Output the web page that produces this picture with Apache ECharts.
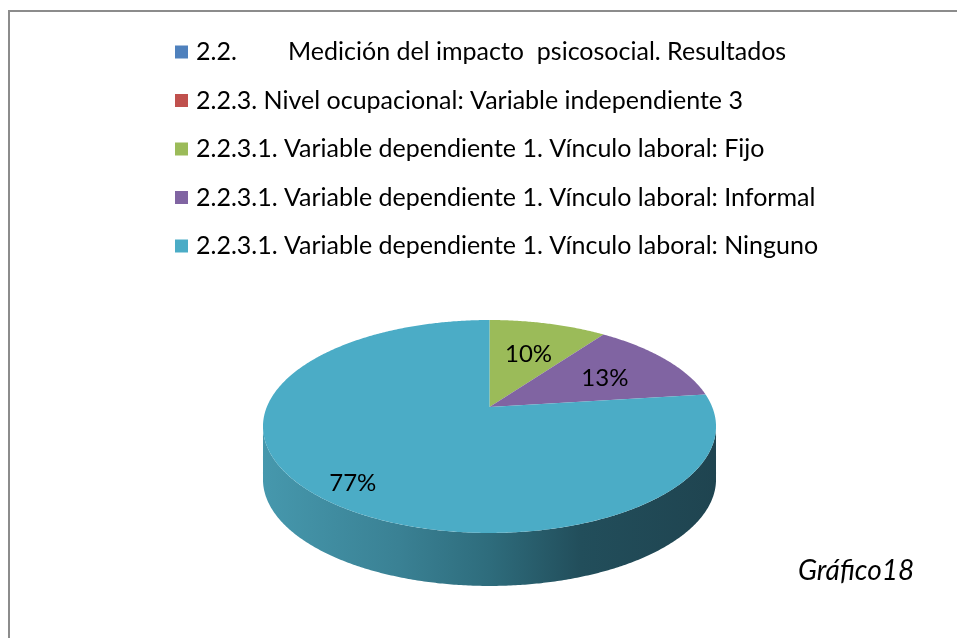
<!DOCTYPE html>
<html>
<head>
<meta charset="utf-8">
<script src="https://cdn.jsdelivr.net/npm/echarts@6/dist/echarts.min.js"></script>
<style>
  html, body { margin: 0; padding: 0; background: #ffffff; }
  #chart { width: 957px; height: 638px; }
</style>
</head>
<body>
<div id="chart"></div>
<script>
// Categories shown in the legend (the first two carry no value)
const categories = [
  '2.2.        Medición del impacto  psicosocial. Resultados',
  '2.2.3. Nivel ocupacional: Variable independiente 3',
  '2.2.3.1. Variable dependiente 1. Vínculo laboral: Fijo',
  '2.2.3.1. Variable dependiente 1. Vínculo laboral: Informal',
  '2.2.3.1. Variable dependiente 1. Vínculo laboral: Ninguno'
];
const values = [null, null, 10, 13, 77];
const colors = ['#4F81BD', '#C0504D', '#9BBB59', '#8064A2', '#4BACC6'];
const captionText = 'Gráfico18';

const FONT = 'Lato, "Open Sans", sans-serif';

// Tilted disc geometry (perspective view of a flat cylinder)
const disc = { cx: 489.5, cy: 407, rx: 222.7, ry: 102.9, k: 0.183, depth: 53 };

function project(theta, r, dy) {
  const X = r * Math.sin(theta);
  const Z = -r * Math.cos(theta);
  const s = 1 / (1 - disc.k * Z);
  return [disc.cx + disc.rx * X * s, disc.cy + disc.ry * Z * s + (dy || 0)];
}

// Angles where the rim silhouette reaches its left/right extremes
const sideFrom = Math.acos(-disc.k);
const sideTo = 2 * Math.PI - sideFrom;

const total = values.reduce((a, v) => a + (v || 0), 0);
const starts = [];
let acc = 0;
values.forEach(v => { starts.push(acc); acc += (v || 0); });

function arcPoints(a0, a1, dy) {
  const pts = [];
  const n = Math.max(2, Math.ceil((a1 - a0) / (Math.PI / 360)));
  for (let i = 0; i <= n; i++) {
    pts.push(project(a0 + (a1 - a0) * i / n, 1, dy));
  }
  return pts;
}

const sideGradient = {
  type: 'linear', global: true,
  x: disc.cx - disc.rx * 1.02, y: 0, x2: disc.cx + disc.rx * 1.02, y2: 0,
  colorStops: [
    { offset: 0, color: '#4698ad' },
    { offset: 0.3, color: '#3a8194' },
    { offset: 0.5, color: '#2e6c7c' },
    { offset: 0.7, color: '#224e5b' },
    { offset: 1, color: '#1f4450' }
  ]
};

function renderSlice(params, api) {
  const v = api.value(2);
  if (!(v > 0)) return null;
  const a0 = api.value(0) / total * 2 * Math.PI;
  const a1 = api.value(1) / total * 2 * Math.PI;
  const share = v / total;
  const children = [];

  // Rim, only the part facing the viewer
  const s0 = Math.max(a0, sideFrom), s1 = Math.min(a1, sideTo);
  if (s1 > s0) {
    const top = arcPoints(s0, s1, 0);
    const bottom = arcPoints(s0, s1, disc.depth).reverse();
    children.push({
      type: 'polygon',
      shape: { points: top.concat(bottom) },
      style: { fill: sideGradient }
    });
  }

  // Top face
  const face = [project(0, 0, 0)].concat(arcPoints(a0, a1, 0));
  children.push({
    type: 'polygon',
    shape: { points: face },
    style: { fill: api.visual('color') }
  });

  // Percentage label; wide slices push their label further out
  const mid = (a0 + a1) / 2;
  const lp = project(mid, 0.6 + 0.29 * share, 2 + 4 * share);
  children.push({
    type: 'text',
    style: {
      text: Math.round(share * 100) + '%',
      x: lp[0], y: lp[1],
      fill: '#000000',
      font: '24px ' + FONT,
      align: 'center',
      verticalAlign: 'middle'
    },
    z2: 10
  });
  return { type: 'group', children: children };
}

const series = categories.map((name, i) => ({
  type: 'custom',
  name: name,
  coordinateSystem: 'none',
  itemStyle: { color: colors[i] },
  renderItem: renderSlice,
  data: values[i] == null ? [] : [[starts[i], starts[i] + values[i], values[i]]],
  silent: true
}));

const chart = echarts.init(document.getElementById('chart'), null, { renderer: 'canvas' });
chart.setOption({
  animation: false,
  backgroundColor: '#ffffff',
  legend: {
    orient: 'vertical',
    left: 170,
    top: 33,
    icon: 'rect',
    itemWidth: 13,
    itemHeight: 13,
    itemGap: 20.5,
    selectedMode: false,
    data: categories,
    textStyle: {
      fontFamily: FONT,
      fontSize: 25,
      color: '#000000',
      lineHeight: 28,
      padding: [0, 0, 0, 3]
    }
  },
  graphic: [
    {
      type: 'rect',
      shape: { x: 9, y: 11, width: 1000, height: 700 },
      style: { fill: 'none', stroke: '#8c8c8c', lineWidth: 2 },
      silent: true
    },
    {
      type: 'text',
      left: 798,
      top: 557,
      style: { text: captionText, font: 'italic 28px ' + FONT, fill: '#000000' }
    }
  ],
  series: series
});
</script>
</body>
</html>
